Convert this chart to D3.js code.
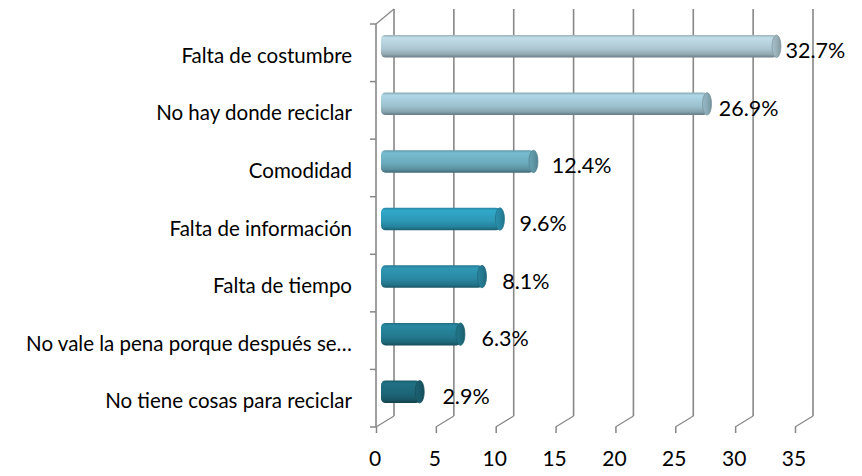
<!DOCTYPE html>
<html>
<head>
<meta charset="utf-8">
<script src="https://cdn.jsdelivr.net/npm/d3@7"></script>
<style>
  body { margin: 0; background: #fff; }
  svg { display: block; font-family: Lato, "Open Sans", sans-serif; }
</style>
</head>
<body>
<div id="chart"></div>
<script>
// Data
const categories = [
    "Falta de costumbre",
    "No hay donde reciclar",
    "Comodidad",
    "Falta de información",
    "Falta de tiempo",
    "No vale la pena porque después se…",
    "No tiene cosas para reciclar"
];
const values = [32.7, 26.9, 12.4, 9.6, 8.1, 6.3, 2.9];
const xTicks = [0, 5, 10, 15, 20, 25, 30, 35];
const barColors = ["#adc7d1", "#9cc1ce", "#6ba9bb", "#2c97b5", "#2a88a2", "#237a8f", "#1d6577"];

const svgWidth = 862, svgHeight = 476;
const depth = { dx: 18, dy: -11 };
const frontTop = 24, frontBottom = 427, backTop = 9;
const gridColor = "#878787";

const svg = d3.select("#chart")
    .append("svg")
    .attr("width", svgWidth)
    .attr("height", svgHeight);

// Scales (front plane of the 3D box)
const x = d3.scaleLinear().domain([0, 35]).range([376, 795]);
const y = d3.scaleBand().domain(categories).range([frontTop, frontBottom]);
// bars sit in the middle of the depth
const xm = d3.scaleLinear().domain([0, 35]).range([376 + depth.dx / 2 + 0.5, 795 + depth.dx / 2 + 0.5]);
// data labels
const xl = d3.scaleLinear().domain([0, 35]).range([409, 812]);

// Back wall gridlines
svg.append("g")
    .selectAll("line")
    .data(xTicks)
    .enter().append("line")
    .attr("x1", d => x(d) + depth.dx)
    .attr("x2", d => x(d) + depth.dx)
    .attr("y1", backTop)
    .attr("y2", frontBottom + depth.dy)
    .attr("stroke", gridColor)
    .attr("stroke-width", 1.6);

// Floor lines going from the front ticks to the back wall
svg.append("g")
    .selectAll("line")
    .data(xTicks)
    .enter().append("line")
    .attr("x1", d => x(d))
    .attr("y1", frontBottom)
    .attr("x2", d => x(d) + depth.dx)
    .attr("y2", frontBottom + depth.dy)
    .attr("stroke", gridColor)
    .attr("stroke-width", 1.2);

// Bottom axis (ticks + labels)
const xAxis = svg.append("g")
    .attr("transform", `translate(0, ${frontBottom})`)
    .call(d3.axisBottom(x).tickValues(xTicks).tickSize(6).tickPadding(18));
xAxis.select(".domain").remove();
xAxis.selectAll(".tick line").attr("stroke", gridColor).attr("stroke-width", 1.5);
xAxis.selectAll(".tick text")
    .attr("x", -1.5)
    .attr("fill", "#000")
    .style("font-size", "21px")
    .style("font-family", "Lato, 'Open Sans', sans-serif");

// Left axis line, top edge and category ticks
svg.append("line")
    .attr("x1", x(0)).attr("x2", x(0))
    .attr("y1", frontTop).attr("y2", frontBottom)
    .attr("stroke", gridColor).attr("stroke-width", 1.6);
svg.append("line")
    .attr("x1", x(0)).attr("y1", frontTop)
    .attr("x2", x(0) + depth.dx).attr("y2", backTop)
    .attr("stroke", gridColor).attr("stroke-width", 1.2);

const boundaries = categories.map(c => y(c)).concat([frontBottom]);
svg.append("g")
    .selectAll("line")
    .data(boundaries)
    .enter().append("line")
    .attr("x1", x(0) - 6)
    .attr("x2", x(0))
    .attr("y1", d => d)
    .attr("y2", d => d)
    .attr("stroke", gridColor)
    .attr("stroke-width", 1.5);

// Category labels
svg.append("g")
    .selectAll("text")
    .data(categories)
    .enter().append("text")
    .attr("x", 352)
    .attr("y", d => y(d) + y.bandwidth() / 2 + 10)
    .attr("text-anchor", "end")
    .attr("fill", "#000")
    .style("font-size", "20.5px")
    .text(d => d);

// Gradients for the cylinders
const defs = svg.append("defs");
barColors.forEach((c, i) => {
    const base = d3.color(c);
    const g = defs.append("linearGradient")
        .attr("id", "grad" + i)
        .attr("x1", 0).attr("y1", 0).attr("x2", 0).attr("y2", 1);
    [[0, base.darker(0.35)], [0.12, base.brighter(0.3)], [0.3, base.brighter(0.2)],
     [0.6, base], [0.85, base.darker(0.45)], [1, base.darker(1.3)]]
        .forEach(([o, col]) => g.append("stop").attr("offset", o).attr("stop-color", col.formatHex()));

    const gc = defs.append("linearGradient")
        .attr("id", "cap" + i)
        .attr("x1", 0).attr("y1", 0).attr("x2", 1).attr("y2", 0);
    [[0, base.darker(0.1)], [0.6, base.darker(0.4)], [1, base.darker(0.8)]]
        .forEach(([o, col]) => gc.append("stop").attr("offset", o).attr("stop-color", col.formatHex()));
});

// Cylinder bars
const barH = 22.5, barShift = -6.5, capRx = 4.5;
const bars = svg.append("g")
    .selectAll("g")
    .data(values)
    .enter().append("g");

bars.append("rect")
    .attr("x", xm(0) - capRx)
    .attr("y", (d, i) => y(categories[i]) + y.bandwidth() / 2 + barShift - barH / 2)
    .attr("width", d => xm(d) - xm(0) + capRx)
    .attr("height", barH)
    .attr("rx", capRx)
    .attr("fill", (d, i) => `url(#grad${i})`);

bars.append("ellipse")
    .attr("cx", d => xm(d) - 0.5)
    .attr("cy", (d, i) => y(categories[i]) + y.bandwidth() / 2 + barShift)
    .attr("rx", capRx)
    .attr("ry", barH / 2)
    .attr("fill", (d, i) => `url(#cap${i})`)
    .attr("stroke", (d, i) => d3.color(barColors[i]).darker(0.7).formatHex())
    .attr("stroke-width", 0.8);

// Data labels
svg.append("g")
    .selectAll("text")
    .data(values)
    .enter().append("text")
    .attr("x", d => xl(d))
    .attr("y", (d, i) => y(categories[i]) + y.bandwidth() / 2 + 5.5)
    .attr("fill", "#000")
    .style("font-size", "21.5px")
    .text(d => d.toFixed(1) + "%");
</script>
</body>
</html>
